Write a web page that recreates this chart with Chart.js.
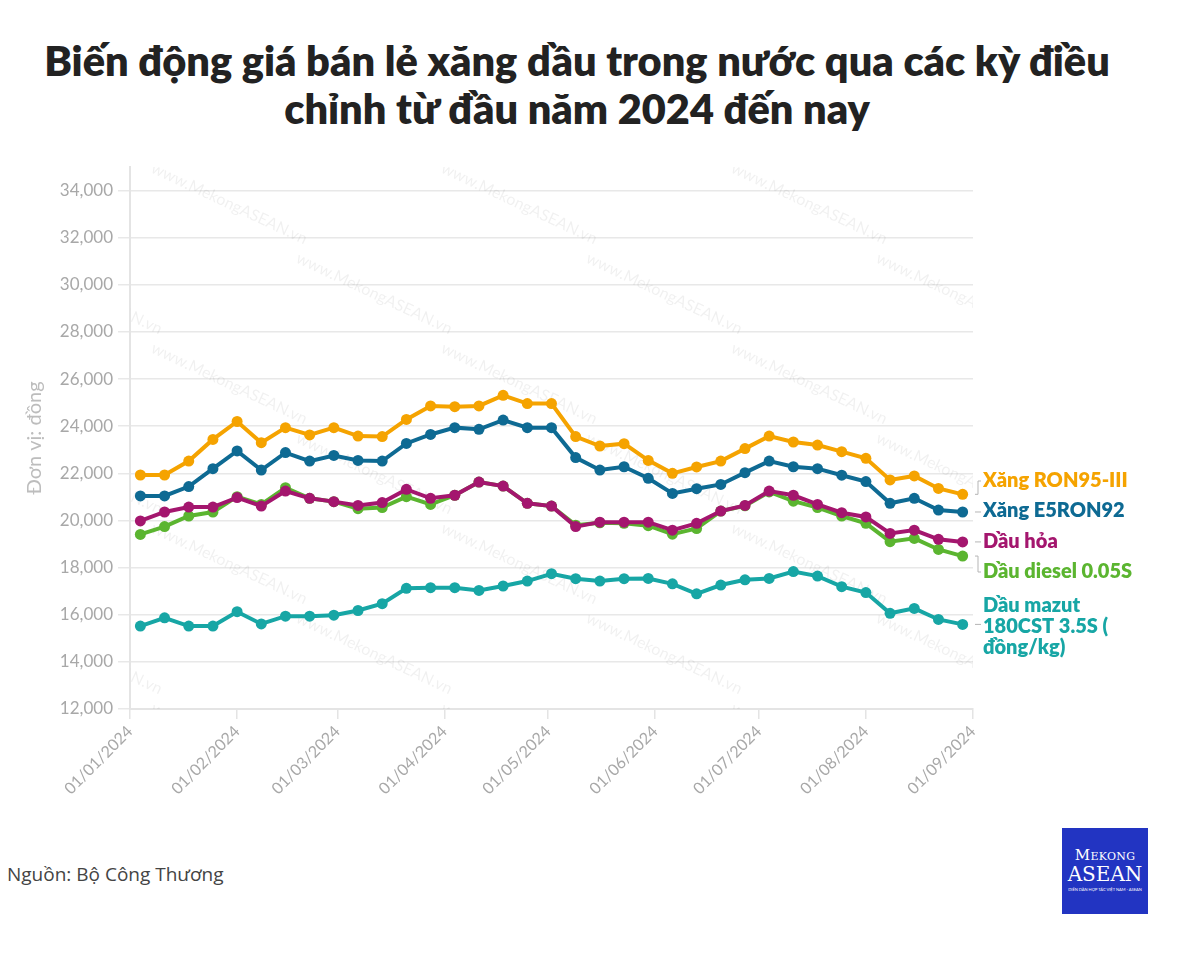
<!DOCTYPE html>
<html>
<head>
<meta charset="utf-8">
<script src="https://cdn.jsdelivr.net/npm/chart.js@4.4.1/dist/chart.umd.min.js"></script>
<style>
  body { margin: 0; background: #fff; width: 1200px; height: 954px; position: relative; overflow: hidden; font-family: Lato, sans-serif; }
  #title { position: absolute; left: 0; top: 36px; width: 1154px; text-align: center; font-weight: 800; font-size: 41.5px; line-height: 48px; color: #222; }
  #chartBox { position: absolute; left: 0; top: 150px; width: 1200px; height: 680px; }
  #source { position: absolute; left: 7px; top: 861px; font-family: "Open Sans", sans-serif; font-size: 19px; color: #444; }
  #logo { position: absolute; left: 1062px; top: 828px; width: 86px; height: 86px; background: #2234c2; color: #fff; text-align: center; font-family: "DejaVu Serif", serif; }
  #logo .l1 { margin-top: 19px; font-size: 15px; font-variant: small-caps; letter-spacing: 0.3px; line-height: 16px; }
  #logo .l2 { font-size: 20px; line-height: 23px; }
  #logo .l3 { font-family: Lato, sans-serif; font-size: 4px; line-height: 7px; white-space: nowrap; }
</style>
</head>
<body>
<div id="title">Biến động giá bán lẻ xăng dầu trong nước qua các kỳ điều<br>chỉnh từ đầu năm 2024 đến nay</div>
<div id="chartBox"><canvas id="fuelChart"></canvas></div>
<div id="source">Nguồn: Bộ Công Thương</div>
<div id="logo"><div class="l1">Mekong</div><div class="l2">ASEAN</div><div class="l3">DIỄN ĐÀN HỢP TÁC VIỆT NAM - ASEAN</div></div>
<script>
// adjustment dates (weekly, Thursdays)
const dates = [
  '2024-01-04', '2024-01-11', '2024-01-18', '2024-01-25',
  '2024-02-01', '2024-02-08', '2024-02-15', '2024-02-22', '2024-02-29',
  '2024-03-07', '2024-03-14', '2024-03-21', '2024-03-28',
  '2024-04-04', '2024-04-11', '2024-04-18', '2024-04-25',
  '2024-05-02', '2024-05-09', '2024-05-16', '2024-05-23', '2024-05-30',
  '2024-06-06', '2024-06-13', '2024-06-20', '2024-06-27',
  '2024-07-04', '2024-07-11', '2024-07-18', '2024-07-25',
  '2024-08-01', '2024-08-08', '2024-08-15', '2024-08-22', '2024-08-29'
];

// prices, dong
const ron95 = [21930, 21930, 22520, 23440, 24200, 23300, 23940, 23630, 23940, 23580, 23560, 24290, 24860, 24830, 24860, 25310, 24960, 24960, 23560, 23160, 23260, 22550, 22000, 22270, 22520, 23050, 23580, 23330, 23200, 22920, 22640, 21720, 21890, 21360, 21110];
const e5ron92 = [21040, 21040, 21440, 22200, 22950, 22140, 22880, 22520, 22760, 22550, 22520, 23270, 23650, 23940, 23870, 24260, 23940, 23940, 22670, 22140, 22280, 21790, 21150, 21350, 21530, 22030, 22520, 22280, 22200, 21920, 21650, 20730, 20940, 20440, 20360];
const dauHoa = [19980, 20360, 20570, 20570, 20970, 20610, 21250, 20940, 20800, 20640, 20760, 21320, 20940, 21070, 21630, 21460, 20730, 20610, 19740, 19930, 19930, 19930, 19590, 19880, 20400, 20640, 21250, 21070, 20680, 20330, 20150, 19450, 19590, 19200, 19090];
const diesel = [19410, 19740, 20190, 20360, 21010, 20680, 21390, 20940, 20800, 20500, 20550, 21010, 20680, 21070, 21630, 21460, 20730, 20610, 19800, 19900, 19880, 19780, 19420, 19660, 20400, 20620, 21210, 20820, 20550, 20190, 19880, 19100, 19240, 18770, 18490];
const mazut = [15520, 15870, 15520, 15520, 16130, 15610, 15940, 15940, 15980, 16180, 16470, 17120, 17150, 17150, 17030, 17220, 17430, 17740, 17530, 17430, 17530, 17540, 17310, 16890, 17260, 17480, 17540, 17830, 17640, 17190, 16940, 16060, 16270, 15800, 15590];

// axis ticks
const monthTicks = ['2024-01-01', '2024-02-01', '2024-03-01', '2024-04-01', '2024-05-01', '2024-06-01', '2024-07-01', '2024-08-01', '2024-09-01'];
const monthLabels = ['01/01/2024', '01/02/2024', '01/03/2024', '01/04/2024', '01/05/2024', '01/06/2024', '01/07/2024', '01/08/2024', '01/09/2024'];
const yTicks = [12000, 14000, 16000, 18000, 20000, 22000, 24000, 26000, 28000, 30000, 32000, 34000];

const seriesNames = ['Xăng RON95-III', 'Xăng E5RON92', 'Dầu hỏa', 'Dầu diesel 0.05S', 'Dầu mazut 180CST 3.5S ( đồng/kg)'];
const seriesColors = ['#f5a300', '#0e6a93', '#a4166e', '#5bb530', '#17a6a5'];

// days since 01/01/2024
const toDay = s => (Date.UTC(+s.slice(0, 4), +s.slice(5, 7) - 1, +s.slice(8, 10)) - Date.UTC(2024, 0, 1)) / 86400000;

const mkData = vals => vals.map((v, i) => ({ x: toDay(dates[i]), y: v }));

// faint watermark behind the lines
const watermark = {
  id: 'watermark',
  beforeDatasetsDraw(chart) {
    const { ctx, chartArea } = chart;
    ctx.save();
    ctx.beginPath();
    ctx.rect(chartArea.left, chartArea.top, chartArea.right - chartArea.left, chartArea.bottom - chartArea.top);
    ctx.clip();
    ctx.font = '16px Lato';
    ctx.fillStyle = 'rgba(0,0,0,0.06)';
    for (let row = -1; row < 7; row++) {
      for (let col = -1; col < 4; col++) {
        const x = chartArea.left + col * 290 + (row % 2) * 145 + 20;
        const y = chartArea.top + row * 90 + 5;
        ctx.save();
        ctx.translate(x, y);
        ctx.rotate(0.44);
        ctx.fillText('www.MekongASEAN.vn', 0, 0);
        ctx.restore();
      }
    }
    ctx.restore();
  }
};

// labels at the end of each line
const endLabels = {
  id: 'endLabels',
  afterDatasetsDraw(chart) {
    const { ctx, chartArea } = chart;
    const labelY = [331, 361, 392, 422, 477];
    const lines = [['Xăng RON95-III'], ['Xăng E5RON92'], ['Dầu hỏa'], ['Dầu diesel 0.05S'], ['Dầu mazut', '180CST 3.5S (', 'đồng/kg)']];
    ctx.save();
    ctx.font = '800 20px Lato';
    ctx.textBaseline = 'middle';
    chart.data.datasets.forEach((ds, i) => {
      const meta = chart.getDatasetMeta(i);
      const last = meta.data[meta.data.length - 1];
      const x0 = chartArea.right + 2;
      const ly = labelY[i] < last.y - 8 || labelY[i] > last.y + 8 ? labelY[i] : last.y;
      ctx.strokeStyle = '#b5b5b5';
      ctx.lineWidth = 1;
      ctx.beginPath();
      ctx.moveTo(x0, last.y);
      ctx.lineTo(x0 + 3, last.y);
      ctx.lineTo(x0 + 3, ly);
      ctx.lineTo(x0 + 6, ly);
      ctx.stroke();
      ctx.fillStyle = seriesColors[i];
      const ls = lines[i];
      const startY = labelY[i] - (ls.length - 1) * 21 / 2;
      ls.forEach((t, k) => ctx.fillText(t, chartArea.right + 10, startY + k * 21));
    });
    ctx.restore();
  }
};

const ctx = document.getElementById('fuelChart').getContext('2d');

const fuelChart = new Chart(ctx, {
  type: 'line',
  data: {
    datasets: [ron95, e5ron92, dauHoa, diesel, mazut].map((vals, i) => ({
      label: seriesNames[i],
      data: mkData(vals),
      borderColor: seriesColors[i],
      backgroundColor: seriesColors[i],
      pointBackgroundColor: seriesColors[i],
      borderWidth: 4,
      pointRadius: 5.5,
      pointBorderWidth: 0,
      tension: 0
    }))
  },
  options: {
    responsive: true,
    maintainAspectRatio: false,
    animation: false,
    layout: { padding: { top: 17, right: 227, left: 0, bottom: 0 } },
    scales: {
      x: {
        type: 'linear',
        min: toDay(monthTicks[0]),
        max: toDay(monthTicks[monthTicks.length - 1]),
        afterBuildTicks: axis => { axis.ticks = monthTicks.map(d => ({ value: toDay(d) })); },
        afterFit: axis => { axis.height = 121; },
        grid: { drawOnChartArea: false, drawTicks: true, tickLength: 10, color: '#e4e4e4', lineWidth: 1.5 },
        border: { color: '#e4e4e4', width: 2 },
        ticks: {
          autoSkip: false,
          minRotation: 45,
          maxRotation: 45,
          padding: 3,
          color: '#a8a8a8',
          font: { family: 'Lato', size: 16 },
          callback: (v, i) => monthLabels[i]
        }
      },
      y: {
        min: 12000,
        max: 35000,
        afterBuildTicks: axis => { axis.ticks = yTicks.map(v => ({ value: v })); },
        afterFit: axis => { axis.width = 130; },
        grid: { color: '#e8e8e8', lineWidth: 1.5, tickLength: 12 },
        border: { color: '#e4e4e4', width: 2 },
        ticks: {
          padding: 5,
          color: '#a8a8a8',
          font: { family: 'Lato', size: 17 },
          callback: v => v.toLocaleString('en-US')
        },
        title: {
          display: true,
          text: 'Đơn vị: đồng',
          color: '#bdbdbd',
          font: { family: 'Lato', size: 20 },
          padding: { top: 23, bottom: 0 }
        }
      }
    },
    plugins: {
      legend: { display: false },
      tooltip: { enabled: false }
    }
  },
  plugins: [watermark, endLabels]
});
</script>
</body>
</html>
